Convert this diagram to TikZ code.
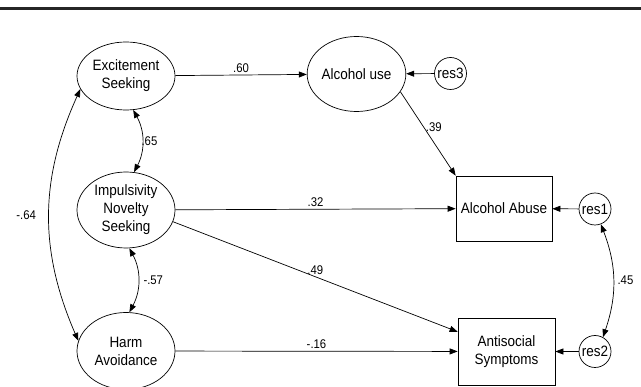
\documentclass[tikz,border=0pt]{standalone}
\usepackage{fontspec}
\setmainfont{Liberation Sans}[FakeStretch=0.9]
\usepackage{tikz}
\usetikzlibrary{arrows.meta,shapes.geometric}
\tikzset{latent/.style={draw=black, ellipse, inner sep=0pt, align=center}}
\tikzset{observed/.style={draw=black, rectangle, inner sep=0pt, align=center}}
\tikzset{residual/.style={draw=black, circle, inner sep=0pt, minimum size=32pt}}
\tikzset{coef/.style={font=\fontsize{12.6}{14}\selectfont, inner sep=2pt}}

\begin{document}
\begin{tikzpicture}[x=1pt,y=-1pt,->,>={Triangle[length=8pt,width=6pt]},
					line width=0.7pt, font=\fontsize{15}{18}\selectfont]
					\useasboundingbox (0,0) rectangle (641,387);
					\draw[-,line width=3pt,black!85] (0,8.5) -- (641,8.5);
					\node[latent, minimum width=98pt, minimum height=68pt] at (126,76) (exc_s) {Excitement\\Seeking};
					\node[latent, minimum width=95pt, minimum height=75pt] at (356.5,74) (alc_use) {Alcohol use};
					\node[residual] at (450.5,73.5) (res_3) {res3};
					\node[latent, minimum width=98pt, minimum height=76pt] at (126,210) (imp_n) {Impulsivity\\Novelty\\Seeking};
					\node[latent, minimum width=98pt, minimum height=77pt] at (126,351) (harm_a) {Harm\\Avoidance};
					\node[observed, minimum width=96pt, minimum height=65pt] at (504,208.5) (alc_ab) {Alcohol Abuse};
					\node[residual] at (595,209) (res_1) {res1};
					\node[observed, minimum width=97pt, minimum height=67pt] at (506.5,351.5) (ant_s) {Antisocial\\Symptoms};
					\node[residual] at (595,351.5) (res_2) {res2};
					\path (exc_s) edge node[coef, above] {.60} (alc_use);
					\path (res_3) edge (alc_use);
					\path (alc_use.-22) edge node[coef, pos=0.42, right] {.39} (alc_ab.north west);
					\path (imp_n) edge node[coef, above] {.32} (alc_ab);
					\path (imp_n.-14) edge node[coef, above] {.49} (ant_s.158);
					\path (harm_a) edge node[coef, above] {-.16} (ant_s);
					\path (res_1) edge (alc_ab);
					\path (res_2) edge (ant_s);
					% correlations
					\path (exc_s.196) edge[<->, bend right=24] node[coef, left=11pt] {-.64} (harm_a.168);
					\path (exc_s.-78) edge[<->, bend left=28] node[coef, right, xshift=-3pt] {.65} (imp_n.78);
					\path (imp_n.-85) edge[<->, bend left=28] node[coef, right=3pt] {-.57} (harm_a.85);
					\path (res_1.-69) edge[<->, bend left=20] node[coef, right=2pt] {.45} (res_2.61);
				\end{tikzpicture}
\end{document}
